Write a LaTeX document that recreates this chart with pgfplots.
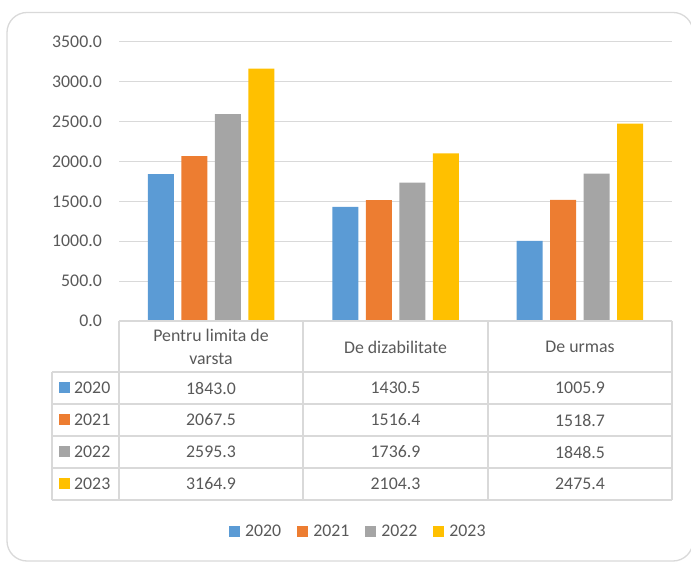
\documentclass[border=0pt]{standalone}
\usepackage{fontspec}
\setmainfont{Carlito}
\usepackage{pgfplots}
\usepackage{pgfplotstable}
\pgfplotsset{compat=1.18}
\definecolor{c20}{HTML}{5B9BD5}
\definecolor{c21}{HTML}{ED7D31}
\definecolor{c22}{HTML}{A5A5A5}
\definecolor{c23}{HTML}{FFC000}
\definecolor{gridc}{HTML}{D9D9D9}
\definecolor{txt}{HTML}{595959}
\pgfplotstableread{
x y2020 y2021 y2022 y2023
0 1843.0 2067.5 2595.3 3164.9
1 1430.5 1516.4 1736.9 2104.3
2 1005.9 1518.7 1848.5 2475.4
}\data
\newcommand{\fs}{\fontsize{17.8bp}{23bp}\selectfont}
\begin{document}
\begin{tikzpicture}
\useasboundingbox (0bp,0bp) rectangle (691bp,562bp);
\draw[gridc, line width=1.3bp, rounded corners=20bp] (7bp,1bp) rectangle (693bp,549.5bp);
\begin{axis}[at={(119bp,241bp)}, anchor=south west, scale only axis,
  width=553bp, height=279bp,
  ybar=7.5bp, bar width=26bp,
  xmin=-0.5, xmax=2.5, ymin=0, ymax=3500,
  ytick={0,500,...,3500}, xtick=\empty,
  axis line style={draw=none}, ytick style={draw=none},
  ymajorgrids, grid style={gridc, line width=1bp},
  yticklabel style={anchor=east, inner sep=0pt, xshift=-17bp, font=\fs, text=txt,
    /pgf/number format/fixed, /pgf/number format/fixed zerofill,
    /pgf/number format/precision=1, /pgf/number format/1000 sep={},
    /pgf/number format/assume math mode=true},
  legend columns=4,
  legend image code/.code={\fill[#1] (0bp,-5.5bp) rectangle (11bp,5.5bp);},
  legend style={at={(0.431,-0.756)}, anchor=center, draw=none, fill=none,
    font=\fs, text=txt, inner sep=0pt,
    nodes={inner sep=0pt},
    /tikz/every odd column/.append style={column sep=5bp},
    /tikz/every even column/.append style={column sep=16bp}},
]
\addplot[fill=c20, draw=none] table[x=x, y=y2020]{\data};
\addplot[fill=c21, draw=none] table[x=x, y=y2021]{\data};
\addplot[fill=c22, draw=none] table[x=x, y=y2022]{\data};
\addplot[fill=c23, draw=none] table[x=x, y=y2023]{\data};
\legend{2020,2021,2022,2023}
\end{axis}
% data table
\begin{scope}[gridc, line width=1.2bp]
\draw (119bp,241bp) -- (672bp,241bp);
\foreach \yy in {190,158,126,94,62} \draw (52bp,\yy bp) -- (672bp,\yy bp);
\draw (52bp,190bp) -- (52bp,62bp);
\foreach \xx in {119,303,488,672} \draw (\xx bp,241bp) -- (\xx bp,62bp);
\end{scope}
\begin{scope}[every node/.style={font=\fs, text=txt, inner sep=0pt, align=center}]
\node at (211bp,215bp) {Pentru limita de\\varsta};
\node at (395.5bp,215bp) {De dizabilitate};
\node at (580bp,215bp) {De urmas};
\node at (211bp,174bp) {1843.0};
\node at (395.5bp,174bp) {1430.5};
\node at (580bp,174bp) {1005.9};
\node at (211bp,142bp) {2067.5};
\node at (395.5bp,142bp) {1516.4};
\node at (580bp,142bp) {1518.7};
\node at (211bp,110bp) {2595.3};
\node at (395.5bp,110bp) {1736.9};
\node at (580bp,110bp) {1848.5};
\node at (211bp,78bp) {3164.9};
\node at (395.5bp,78bp) {2104.3};
\node at (580bp,78bp) {2475.4};
\foreach \yy/\cc/\lab in {174/c20/2020,142/c21/2021,110/c22/2022,78/c23/2023}{
  \fill[\cc] (59bp,\yy bp-5.5bp) rectangle (70bp,\yy bp+5.5bp);
  \node[anchor=west] at (74bp,\yy bp) {\lab};
}
\end{scope}
\end{tikzpicture}
\end{document}
